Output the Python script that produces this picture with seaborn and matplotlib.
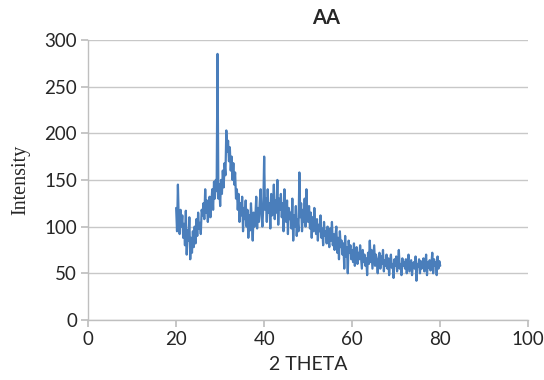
import numpy as np
import pandas as pd
import matplotlib
matplotlib.use("Agg")
import matplotlib.pyplot as plt
import seaborn as sns

# 2-theta from 20 to 80 in 0.2 steps
two_theta = np.round(np.arange(20.0, 80.0001, 0.2), 1)
intensity = [
    120, 95, 145, 105, 92, 118, 100, 112, 88, 103,
    80, 117, 70, 96, 85, 110, 65, 88, 72, 95,
    78, 100, 82, 108, 90, 115, 98, 104, 92, 118,
    112, 125, 108, 140, 115, 128, 105, 120, 132, 110,
    125, 140, 118, 148, 130, 150, 138, 285, 130, 145,
    122, 150, 135, 160, 142, 168, 155, 203, 180, 192,
    170, 185, 160, 175, 150, 168, 145, 158, 130, 140,
    118, 135, 105, 125, 112, 132, 95, 120, 108, 128,
    100, 118, 88, 112, 96, 125, 105, 85, 115, 100,
    110, 132, 98, 120, 105, 126, 140, 112, 100, 122,
    175, 118, 130, 105, 140, 115, 125, 98, 135, 112,
    120, 145, 108, 128, 115, 150, 102, 130, 118, 135,
    110, 125, 95, 140, 118, 105, 128, 92, 120, 108,
    115, 98, 130, 85, 112, 100, 122, 90, 108, 95,
    158, 110, 125, 95, 118, 105, 130, 100, 140, 112,
    105, 122, 98, 115, 88, 110, 95, 120, 100, 92,
    108, 85, 102, 95, 112, 88, 98, 80, 105, 90,
    95, 82, 100, 88, 78, 98, 85, 105, 80, 92,
    75, 90, 100, 72, 88, 65, 95, 78, 85, 70,
    82, 55, 90, 68, 78, 50, 85, 72, 80, 65,
    75, 62, 82, 58, 70, 78, 60, 72, 65, 80,
    68, 55, 75, 62, 70, 58, 66, 48, 72, 60,
    85, 62, 75, 55, 68, 80, 58, 70, 62, 50,
    65, 72, 55, 68, 60, 75, 52, 64, 58, 70,
    55, 66, 48, 62, 70, 56, 60, 45, 65, 58,
    68, 52, 62, 75, 55, 60, 48, 66, 58, 62,
    55, 65, 50, 62, 70, 52, 58, 64, 48, 60,
    62, 55, 68, 42, 60, 57, 65, 50, 63, 55,
    58, 66, 52, 60, 70, 48, 62, 56, 64, 53,
    60, 72, 50, 65, 58, 62, 48, 68, 55, 63,
    58,
]
x_ticks = [0, 20, 40, 60, 80, 100]
y_ticks = [0, 50, 100, 150, 200, 250, 300]
title = "AA"
x_label = "2 THETA"
y_label = "Intensity"

df = pd.DataFrame({"two_theta": two_theta, "intensity": intensity})

sns.set_theme(style="white")
plt.rcParams['font.family'] = ['Lato', 'DejaVu Sans']

fig = plt.figure(figsize=(5.44, 3.80), dpi=100)
ax = fig.add_axes([0.162, 0.158, 0.809, 0.737])

sns.lineplot(data=df, x="two_theta", y="intensity", ax=ax,
             color="#4a7ebb", linewidth=1.6, estimator=None, sort=False)

ax.set_xlim(0, 100)
ax.set_ylim(0, 300)
ax.set_xticks(x_ticks)
ax.set_yticks(y_ticks)
ax.set_xticklabels([str(t) for t in x_ticks], fontsize=13.5)
ax.set_yticklabels([str(t) for t in y_ticks], fontsize=13.5)
ax.yaxis.grid(True, color="#c8c8c8", linewidth=1.0)
ax.xaxis.grid(False)
ax.set_axisbelow(True)

for s in ["top", "right"]:
    ax.spines[s].set_visible(False)
for s in ["left", "bottom"]:
    ax.spines[s].set_color("#bfbfbf")
    ax.spines[s].set_linewidth(1.0)

ax.tick_params(axis="x", which="major", direction="out", length=5, color="#bfbfbf",
               bottom=True, pad=3)
ax.tick_params(axis="y", which="major", direction="out", length=5, color="#bfbfbf",
               left=True, pad=3)

ax.set_xlabel(x_label, fontsize=14, labelpad=6)
ax.set_ylabel(y_label, fontsize=14.5, family=['Liberation Serif'], labelpad=10)
fig.text(326 / 544, 1 - 18 / 380, title, fontsize=14.5, fontweight="bold",
         ha="center", va="center")

fig.savefig("out.png", dpi=100)
